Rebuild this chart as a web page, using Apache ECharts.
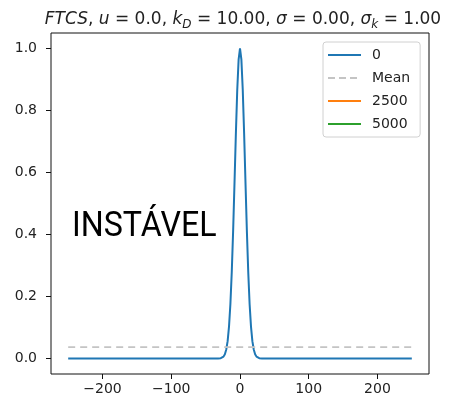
<!DOCTYPE html>
<html>
<head>
<meta charset="utf-8">
<script src="https://cdn.jsdelivr.net/npm/echarts@6/dist/echarts.min.js"></script>
<style>
  html, body { margin: 0; padding: 0; background: #fff; }
  #container { width: 458px; height: 409px; }
</style>
</head>
<body>
<div id="container"></div>
<script>
// curve at t=0
var xs = [-250, -32, -30, -28, -26, -24, -22, -20, -18, -16, -14, -12, -10, -8, -6, -4, -2, 0,
          2, 4, 6, 8, 10, 12, 14, 16, 18, 20, 22, 24, 26, 28, 30, 32, 250];
var ys = [0, 0, 0, 0.001, 0.002, 0.006, 0.014, 0.029, 0.056, 0.103, 0.175, 0.278, 0.411, 0.566, 0.726, 0.867, 0.965, 1.0,
          0.965, 0.867, 0.726, 0.566, 0.411, 0.278, 0.175, 0.103, 0.056, 0.029, 0.014, 0.006, 0.002, 0.001, 0, 0, 0];
var meanX = [-250, 250];
var meanY = [0.037, 0.037];
var seriesNames = ['0', 'Mean', '2500', '5000'];
var xTicks = [-200, -100, 0, 100, 200];
var yTicks = [0, 0.2, 0.4, 0.6, 0.8, 1.0];

(function(w){
    var dom = document.getElementById("container");
    var myChart = echarts.init(dom);

    function pairs(a, b) {
        var out = [];
        for (var i = 0; i < a.length; i++) out.push([a[i], b[i]]);
        return out;
    }
    var font = 'DejaVu Sans';
    var solidIcon = 'path://M0,0h33v2h-33z';
    var dashIcon = 'path://M0,0h7v2h-7z M11,0h7v2h-7z M22,0h7v2h-7z M33,0h0v2h0z';

    var option = {
        animation: false,
        title: {
            text: '{it|FTCS}{n|, }{it|u}{n| = 0.0, }{it|k}{sub|D}{n| = 10.00, }{it|σ}{n| = 0.00, }{it|σ}{sub|k}{n| = 1.00}',
            left: 238,
            top: 4,
            textAlign: 'center',
            textStyle: {
                fontWeight: 'normal',
                rich: {
                    it: {fontFamily: font, fontStyle: 'italic', fontWeight: 'normal', fontSize: 17, color: '#222', lineHeight: 22, verticalAlign: 'middle'},
                    n: {fontFamily: font, fontWeight: 'normal', fontSize: 17, color: '#222', lineHeight: 22, verticalAlign: 'middle'},
                    sub: {fontFamily: font, fontStyle: 'italic', fontWeight: 'normal', fontSize: 12, color: '#222', lineHeight: 22, verticalAlign: 'bottom'}
                }
            }
        },
        grid: {
            left: 51, right: 29, top: 33, bottom: 35,
            show: true, borderColor: '#111', borderWidth: 1, backgroundColor: 'transparent'
        },
        legend: {
            orient: 'vertical',
            left: 323, top: 42,
            itemWidth: 33, itemHeight: 2, itemGap: 9,
            padding: [6, 10, 6, 5],
            borderColor: '#d0d0d0', borderWidth: 1, borderRadius: 3,
            backgroundColor: 'rgba(255,255,255,0.8)',
            textStyle: {fontFamily: font, fontSize: 14, color: '#222', padding: [0, 0, 0, 6]},
            data: [
                {name: seriesNames[0], icon: solidIcon},
                {name: seriesNames[1], icon: dashIcon},
                {name: seriesNames[2], icon: solidIcon},
                {name: seriesNames[3], icon: solidIcon}
            ]
        },
        xAxis: {
            type: 'value', min: -275, max: 275,
            splitLine: {show: false},
            axisLine: {show: false, onZero: false},
            axisTick: {show: true, length: 5, customValues: xTicks, lineStyle: {color: '#111'}},
            axisLabel: {
                customValues: xTicks, margin: 8,
                fontFamily: font, fontSize: 14, color: '#222',
                formatter: function(v){ return String(v).replace('-', '\u2212'); }
            }
        },
        yAxis: {
            type: 'value', min: -0.05, max: 1.05,
            splitLine: {show: false},
            axisLine: {show: false, onZero: false},
            axisTick: {show: true, length: 5, customValues: yTicks, lineStyle: {color: '#111'}},
            axisLabel: {
                customValues: yTicks, margin: 14,
                fontFamily: font, fontSize: 14, color: '#222',
                formatter: function(v){ return v.toFixed(1); }
            }
        },
        graphic: [{
            type: 'text',
            left: 72, top: 210,
            scaleX: 0.92,
            style: {text: 'INSTÁVEL', fontFamily: 'Roboto', fontSize: 35, fill: '#000'}
        }],
        series: [
            {
                name: seriesNames[0], type: 'line', showSymbol: false, symbol: 'none',
                data: pairs(xs, ys),
                lineStyle: {color: '#1f77b4', width: 2}, itemStyle: {color: '#1f77b4'}
            },
            {
                name: seriesNames[1], type: 'line', showSymbol: false, symbol: 'none',
                data: pairs(meanX, meanY),
                lineStyle: {color: '#c4c4c4', width: 1.8, type: [7, 5]}, itemStyle: {color: '#c4c4c4'}
            },
            {
                name: seriesNames[2], type: 'line', showSymbol: false, symbol: 'none',
                data: [],
                lineStyle: {color: '#ff7f0e', width: 2}, itemStyle: {color: '#ff7f0e'}
            },
            {
                name: seriesNames[3], type: 'line', showSymbol: false, symbol: 'none',
                data: [],
                lineStyle: {color: '#2ca02c', width: 2}, itemStyle: {color: '#2ca02c'}
            }
        ]
    };
    myChart.setOption(option, true);
})(window);
</script>
</body>
</html>
